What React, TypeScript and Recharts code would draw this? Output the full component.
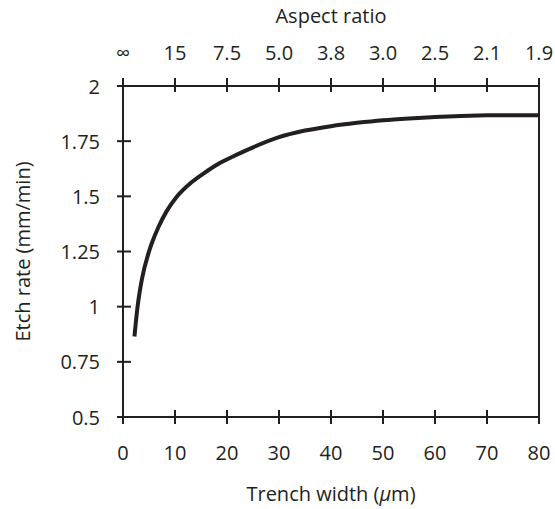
import React from 'react';
import { LineChart, Line, XAxis, YAxis, ReferenceLine } from 'recharts';

const trenchWidth = [2.2, 2.8, 3.6, 5.0, 5.5, 6.8, 8.4, 10.3, 12.9, 15.4, 18.7, 22, 25, 30, 35, 40, 45, 50, 55, 60, 65, 70, 75, 80];
const etchRate = [0.865, 1.0, 1.12, 1.25, 1.285, 1.36, 1.433, 1.497, 1.558, 1.602, 1.652, 1.69, 1.722, 1.768, 1.798, 1.818, 1.833, 1.845, 1.853, 1.859, 1.864, 1.867, 1.868, 1.868];

const xTicks = [0, 10, 20, 30, 40, 50, 60, 70, 80];
const aspectLabels = ['∞', '15', '7.5', '5.0', '3.8', '3.0', '2.5', '2.1', '1.9'];
const yTicks = [0.5, 0.75, 1, 1.25, 1.5, 1.75, 2];

const data = trenchWidth.map((x, i) => ({ x, rate: etchRate[i] }));

const INK = '#231f20';
const FONT = '"Open Sans", sans-serif';
const FS = 20;

const BottomTick = (props: any) => {
  const { x, y, payload } = props;
  return (
    <g>
      <line x1={x} x2={x} y1={y - 7} y2={y + 7} stroke={INK} strokeWidth={2} />
      <text x={x} y={y + 35} textAnchor="middle" dominantBaseline="central" fill={INK} fontSize={FS} fontFamily={FONT}>
        {payload.value}
      </text>
    </g>
  );
};

const TopTick = (props: any) => {
  const { x, y, payload, index } = props;
  return (
    <g>
      <line x1={x} x2={x} y1={y - 8} y2={y + 6} stroke={INK} strokeWidth={2} />
      <text x={x} y={y - 34} textAnchor="middle" dominantBaseline="central" fill={INK} fontSize={FS} fontFamily={FONT}>
        {aspectLabels[index] ?? payload.value}
      </text>
    </g>
  );
};

const LeftTick = (props: any) => {
  const { x, y, payload } = props;
  return (
    <g>
      <line x1={x - 6} x2={x + 8} y1={y} y2={y} stroke={INK} strokeWidth={2} />
      <text x={x - 23} y={y} textAnchor="end" dominantBaseline="central" fill={INK} fontSize={FS} fontFamily={FONT}>
        {payload.value}
      </text>
    </g>
  );
};

export default function App() {
  return (
    <div style={{ position: 'absolute', left: 0, top: 0, background: '#fff' }}>
      <LineChart width={555} height={509} data={data} margin={{ top: 0, right: 16, bottom: 0, left: 0 }}>
        <XAxis
          xAxisId="t"
          orientation="top"
          dataKey="x"
          type="number"
          domain={[0, 80]}
          ticks={xTicks}
          height={86}
          tickSize={0}
          tickMargin={0}
          tickLine={false}
          tick={<TopTick />}
          axisLine={{ stroke: INK, strokeWidth: 2 }}
          label={({ viewBox }: any) => (
            <text x={viewBox.x + viewBox.width / 2} y={viewBox.y + 23} textAnchor="middle" fill={INK} fontSize={FS} fontFamily={FONT}>
              Aspect ratio
            </text>
          )}
        />
        <XAxis
          xAxisId="b"
          dataKey="x"
          type="number"
          domain={[0, 80]}
          ticks={xTicks}
          height={92}
          tickSize={0}
          tickMargin={0}
          tickLine={false}
          tick={<BottomTick />}
          axisLine={{ stroke: INK, strokeWidth: 2 }}
          label={({ viewBox }: any) => (
            <text x={viewBox.x + viewBox.width / 2} y={viewBox.y + 84} textAnchor="middle" fill={INK} fontSize={FS} fontFamily={FONT}>
              Trench width (<tspan fontStyle="italic">μ</tspan>m)
            </text>
          )}
        />
        <YAxis
          domain={[0.5, 2]}
          ticks={yTicks}
          width={123}
          tickSize={0}
          tickMargin={0}
          tickLine={false}
          tick={<LeftTick />}
          axisLine={{ stroke: INK, strokeWidth: 2 }}
          label={({ viewBox }: any) => {
            const cx = 22;
            const cy = viewBox.y + viewBox.height / 2;
            return (
              <text x={cx} y={cy} transform={`rotate(-90 ${cx} ${cy})`} textAnchor="middle" dominantBaseline="central" fill={INK} fontSize={FS} fontFamily={FONT}>
                Etch rate (mm/min)
              </text>
            );
          }}
        />
        <ReferenceLine xAxisId="b" x={80} stroke={INK} strokeWidth={2} />
        <Line
          xAxisId="b"
          type="monotone"
          dataKey="rate"
          stroke={INK}
          strokeWidth={4}
          dot={false}
          isAnimationActive={false}
        />
      </LineChart>
    </div>
  );
}
